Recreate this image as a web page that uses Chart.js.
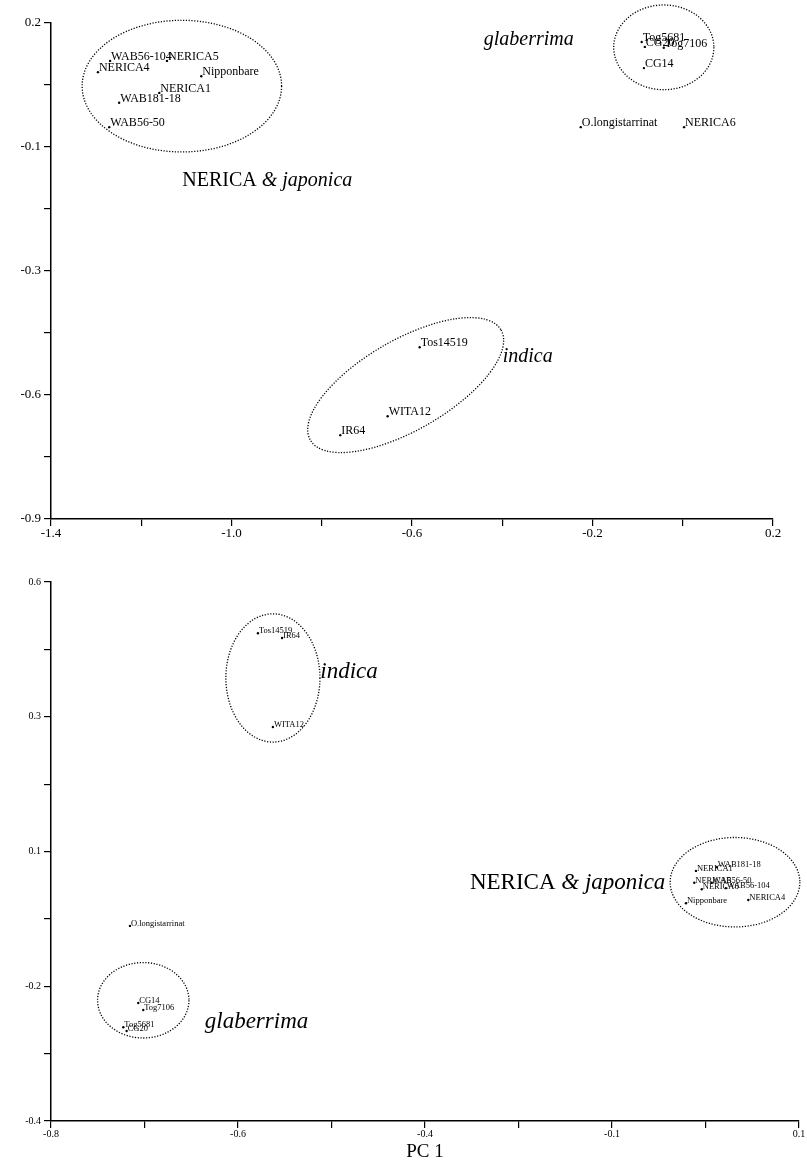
<!DOCTYPE html>
<html>
<head>
<meta charset="utf-8">
<script src="https://cdn.jsdelivr.net/npm/chart.js@4.4.1/dist/chart.umd.min.js"></script>
<style>
  body { margin: 0; background: #fff; }
  canvas { position: absolute; left: 0; }
  #top { top: 0; }
  #bottom { top: 560px; }
</style>
</head>
<body>
<canvas id="top" width="807" height="560"></canvas>
<canvas id="bottom" width="807" height="603"></canvas>
<script>
// ---- upper plot ----
let topNames = ['WAB56-104', 'NERICA5', 'NERICA4', 'Nipponbare', 'NERICA1', 'WAB181-18', 'WAB56-50',
  'Tog5681', 'CG20', 'Tog7106', 'CG14', 'O.longistarrinat', 'NERICA6', 'Tos14519', 'WITA12', 'IR64']
let topX = [-1.269, -1.143, -1.296, -1.067, -1.160, -1.249, -1.271,
  -0.091, -0.084, -0.042, -0.086, -0.226, 0.003, -0.583, -0.654, -0.759]
let topY = [0.116, 0.116, 0.091, 0.082, 0.045, 0.023, -0.031,
  0.158, 0.147, 0.145, 0.100, -0.031, -0.031, -0.519, -0.672, -0.714]
let topXTicks = [-1.4, -1.2, -1.0, -0.8, -0.6, -0.4, -0.2, 0, 0.2]
let topXLabels = ['-1.4', '', '-1.0', '', '-0.6', '', '-0.2', '', '0.2']
let topYTicks = [0.2, 0.0625, -0.075, -0.2125, -0.35, -0.4875, -0.625, -0.7625, -0.9]
let topYLabels = ['0.2', '', '-0.1', '', '-0.3', '', '-0.6', '', '-0.9']
// group circles: centre, radii (data units), tilt in degrees
let topEllX = [-1.110, -0.042, -0.614]
let topEllY = [0.060, 0.146, -0.603]
let topEllRX = [0.221, 0.111, 0.244]
let topEllRY = [0.146, 0.094, 0.100]
let topEllRot = [0, 0, 30]
let topGroupUpright = ['', '', 'NERICA ']
let topGroupItalic = ['glaberrima', 'indica', '& japonica']
let topGroupX = [-0.441, -0.399, -1.109]
let topGroupY = [0.162, -0.541, -0.150]

// ---- lower plot ----
let botNames = ['Tos14519', 'IR64', 'WITA12', 'O.longistarrinat', 'CG14', 'Tog7106', 'Tog5681', 'CG20',
  'NERICA1', 'WAB181-18', 'NERICA5', 'WAB56-50', 'NERICA6', 'WAB56-104', 'Nipponbare', 'NERICA4']
let botX = [-0.551, -0.522, -0.533, -0.705, -0.695, -0.689, -0.713, -0.709,
  -0.024, 0.001, -0.026, -0.005, -0.017, 0.012, -0.036, 0.039]
let botY = [0.505, 0.496, 0.331, -0.038, -0.181, -0.194, -0.226, -0.233,
  0.064, 0.071, 0.042, 0.042, 0.030, 0.032, 0.004, 0.010]
let botXTicks = [-0.8, -0.6875, -0.575, -0.4625, -0.35, -0.2375, -0.125, -0.0125, 0.1]
let botXLabels = ['-0.8', '', '-0.6', '', '-0.4', '', '-0.1', '', '0.1']
let botYTicks = [0.6, 0.475, 0.35, 0.225, 0.1, -0.025, -0.15, -0.275, -0.4]
let botYLabels = ['0.6', '', '0.3', '', '0.1', '', '-0.2', '', '-0.4']
let botEllX = [-0.533, -0.689, 0.023]
let botEllY = [0.422, -0.176, 0.043]
let botEllRX = [0.0566, 0.055, 0.078]
let botEllRY = [0.119, 0.070, 0.083]
let botEllRot = [0, 0, 0]
let botGroupUpright = ['', '', 'NERICA ']
let botGroupItalic = ['indica', 'glaberrima', '& japonica']
let botGroupX = [-0.476, -0.615, -0.296]
let botGroupY = [0.433, -0.216, 0.042]

let serif = '"Liberation Serif", "DejaVu Serif", serif'

function overlay(names, ell, groups, st) {
  return {
    id: 'overlay',
    afterDatasetsDraw(chart) {
      let ctx = chart.ctx
      let xs = chart.scales.x
      let ys = chart.scales.y
      ctx.save()
      ctx.fillStyle = '#000'
      ctx.strokeStyle = '#000'
      // point names
      ctx.font = st.labelFont
      ctx.textAlign = 'left'
      ctx.textBaseline = 'alphabetic'
      chart.getDatasetMeta(0).data.forEach((pt, i) => {
        ctx.fillText(names[i], pt.x + 1, pt.y + st.labelDy)
      })
      // dotted group outlines
      ctx.setLineDash([1.2, 1.6])
      ctx.lineWidth = 1.3
      for (let i = 0; i < ell.x.length; i++) {
        let cx = xs.getPixelForValue(ell.x[i])
        let cy = ys.getPixelForValue(ell.y[i])
        let rx = Math.abs(xs.getPixelForValue(ell.x[i] + ell.rx[i]) - cx)
        let ry = Math.abs(ys.getPixelForValue(ell.y[i] + ell.ry[i]) - cy)
        ctx.beginPath()
        ctx.ellipse(cx, cy, rx, ry, -ell.rot[i] * Math.PI / 180, 0, Math.PI * 2)
        ctx.stroke()
      }
      ctx.setLineDash([])
      // group names
      ctx.textBaseline = 'middle'
      for (let i = 0; i < groups.x.length; i++) {
        let px = xs.getPixelForValue(groups.x[i])
        let py = ys.getPixelForValue(groups.y[i])
        ctx.font = st.groupFont
        ctx.fillText(groups.upright[i], px, py)
        let w = ctx.measureText(groups.upright[i]).width
        ctx.font = 'italic ' + st.groupFont
        ctx.fillText(groups.italic[i], px + w, py)
      }
      ctx.restore()
    }
  }
}

function axis(min, max, tickVals, tickLabels, fontSize, size, isX, title) {
  let s = {
    type: 'linear',
    min: min,
    max: max,
    border: { display: true, color: '#000', width: 1.5 },
    grid: { display: true, drawOnChartArea: false, drawTicks: true, tickLength: 7, color: '#000', lineWidth: 1.2 },
    ticks: {
      autoSkip: false,
      maxRotation: 0,
      color: '#000',
      padding: isX ? 0 : 3,
      font: { family: serif, size: fontSize },
      callback: (v, i) => tickLabels[i]
    },
    afterBuildTicks: (scale) => { scale.ticks = tickVals.map(v => ({ value: v })) },
    afterFit: (scale) => { if (isX) scale.height = size; else scale.width = size }
  }
  if (title) s.title = { display: true, text: title, color: '#000', padding: 0, font: { family: serif, size: 19 } }
  return s
}

function makeChart(id, xs, ys, names, scales, pad, plugin) {
  let pts = xs.map((x, i) => ({ x: x, y: ys[i] }))
  return new Chart(document.getElementById(id), {
    type: 'scatter',
    data: {
      datasets: [{
        data: pts,
        pointRadius: 1.2,
        pointHoverRadius: 1.2,
        pointBackgroundColor: '#000',
        pointBorderWidth: 0
      }]
    },
    options: {
      responsive: false,
      animation: false,
      layout: { padding: pad },
      plugins: { legend: { display: false }, tooltip: { enabled: false } },
      scales: scales
    },
    plugins: [plugin]
  })
}

makeChart('top', topX, topY, topNames, {
  x: axis(-1.4, 0.2, topXTicks, topXLabels, 13, 41, true),
  y: axis(-0.9, 0.2, topYTicks, topYLabels, 13, 51, false)
}, { top: 23, right: 34, left: 0, bottom: 0 },
  overlay(topNames,
    { x: topEllX, y: topEllY, rx: topEllRX, ry: topEllRY, rot: topEllRot },
    { x: topGroupX, y: topGroupY, upright: topGroupUpright, italic: topGroupItalic },
    { labelFont: '12px ' + serif, labelDy: -1, groupFont: '20px ' + serif }))

makeChart('bottom', botX, botY, botNames, {
  x: axis(-0.8, 0.1, botXTicks, botXLabels, 10, 42, true, 'PC 1'),
  y: axis(-0.4, 0.6, botYTicks, botYLabels, 10, 51, false)
}, { top: 22, right: 8, left: 0, bottom: 0 },
  overlay(botNames,
    { x: botEllX, y: botEllY, rx: botEllRX, ry: botEllRY, rot: botEllRot },
    { x: botGroupX, y: botGroupY, upright: botGroupUpright, italic: botGroupItalic },
    { labelFont: '8.5px ' + serif, labelDy: 0, groupFont: '23px ' + serif }))
</script>
</body>
</html>
